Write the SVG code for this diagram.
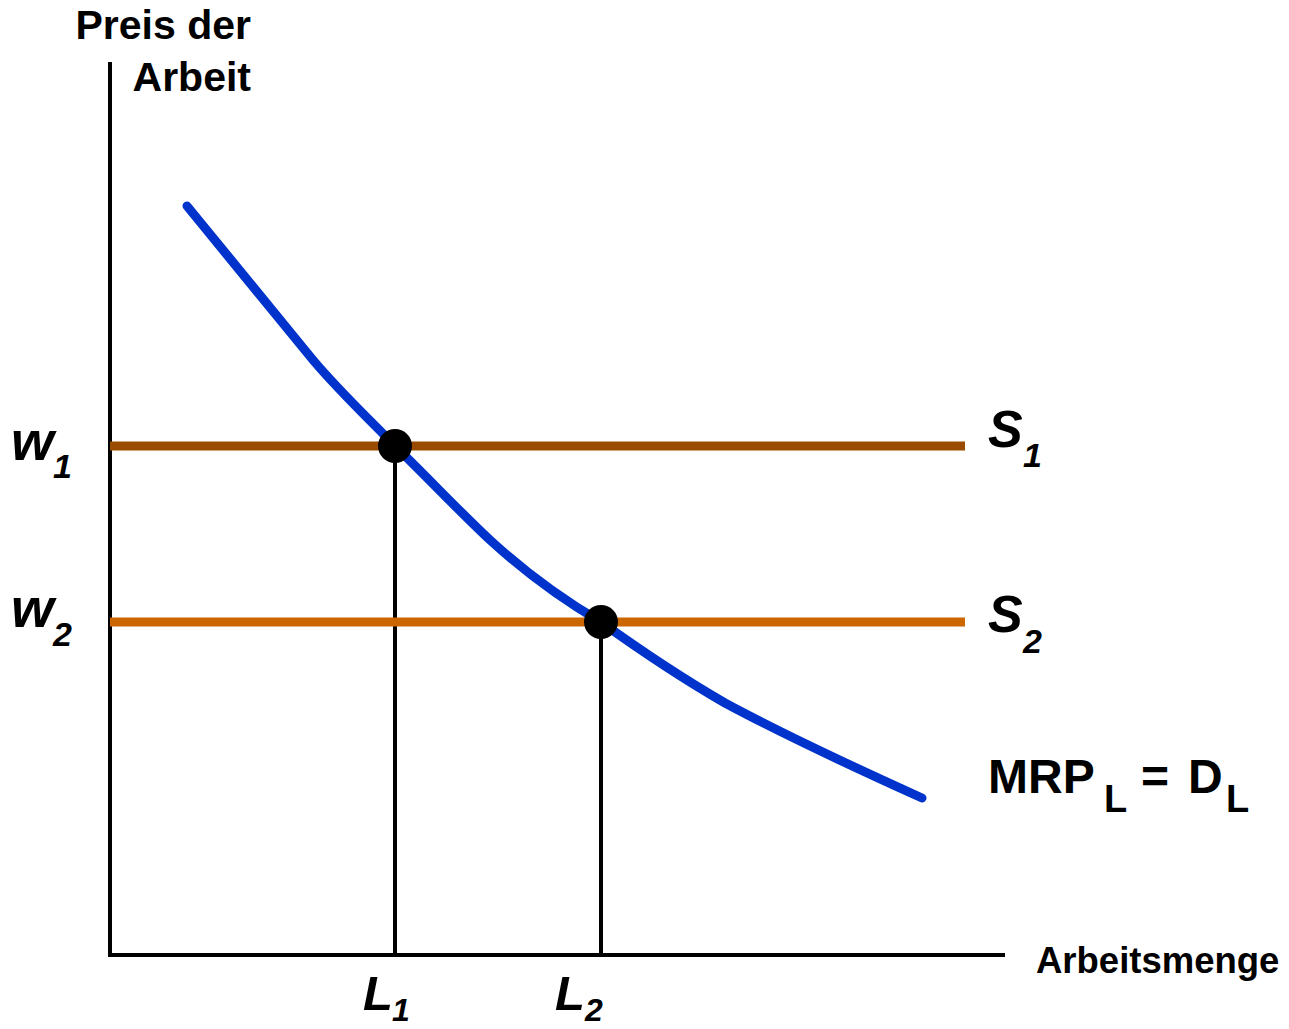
<svg xmlns="http://www.w3.org/2000/svg" width="1289" height="1029" viewBox="0 0 1289 1029">
<style>
text{font-family:"Liberation Sans",Arial,sans-serif;font-weight:bold;fill:#000}
.it{font-style:italic}
.axis{stroke:#000;stroke-width:4;fill:none}
.drop{stroke:#000;stroke-width:4;fill:none}
.dot{fill:#000}
</style>
<rect width="1289" height="1029" fill="#fff"/>
<g id="axes">
<path class="axis" d="M110,62 V955 H1005"/>
<text x="251" y="39" font-size="41" text-anchor="end">Preis der</text>
<text x="251" y="91" font-size="41" text-anchor="end">Arbeit</text>
<text x="1036" y="973" font-size="36.5">Arbeitsmenge</text>
</g>
<g id="connectors">
<line class="drop" x1="395" y1="446" x2="395" y2="955"/>
<line class="drop" x1="601" y1="622" x2="601" y2="955"/>
</g>
<g id="S1">
<line x1="110" y1="446" x2="965" y2="446" stroke="#994c00" stroke-width="9"/>
<text class="it" x="988" y="447" font-size="52">S</text>
<text class="it" x="1023" y="467" font-size="34">1</text>
</g>
<g id="S2">
<line x1="110" y1="622" x2="965" y2="622" stroke="#cc6600" stroke-width="9"/>
<text class="it" x="988" y="632" font-size="52">S</text>
<text class="it" x="1023" y="653" font-size="34">2</text>
</g>
<g id="demand">
<path d="M187,206 L313,360 C340,392 370,420 395,446 C430,480 460,512 490,540 C525,572 560,598 601,622 C640,650 680,677 725,703 C790,738 860,770 922,798" fill="none" stroke="#0033cc" stroke-width="9" stroke-linecap="round" stroke-linejoin="round"/>
<text x="988" y="793" font-size="48">MRP</text>
<text x="1104" y="812" font-size="38">L</text>
<text x="1141" y="793" font-size="48">=</text>
<text x="1188" y="793" font-size="48">D</text>
<text x="1226" y="812" font-size="38">L</text>
</g>
<g id="eq1">
<circle class="dot" cx="395" cy="446" r="17"/>
</g>
<g id="eq2">
<circle class="dot" cx="601" cy="622" r="17"/>
</g>
<g id="w1">
<text class="it" x="11" y="460" font-size="55">w</text>
<text class="it" x="53" y="478" font-size="34">1</text>
</g>
<g id="w2">
<text class="it" x="11" y="627" font-size="55">w</text>
<text class="it" x="53" y="646" font-size="34">2</text>
</g>
<g id="L1">
<text class="it" x="363" y="1010" font-size="49">L</text>
<text class="it" x="392" y="1021" font-size="32">1</text>
</g>
<g id="L2">
<text class="it" x="555" y="1010" font-size="49">L</text>
<text class="it" x="585" y="1021" font-size="32">2</text>
</g>
</svg>
